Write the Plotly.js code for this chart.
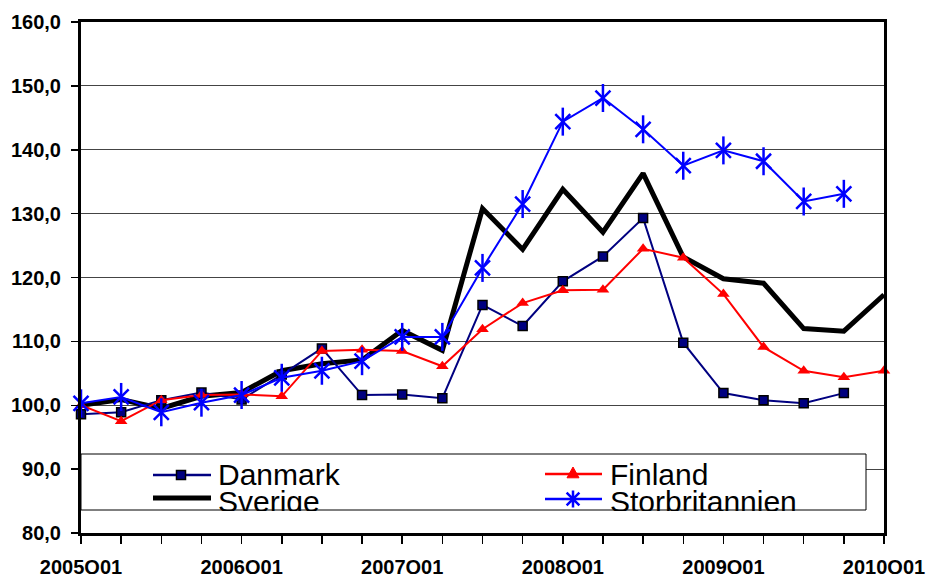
<!DOCTYPE html>
<html>
<head>
<meta charset="utf-8">
<script src="https://cdn.plot.ly/plotly-3.0.1.min.js"></script>
<style>
  html, body { margin: 0; padding: 0; background: #fff; }
  #chart { width: 928px; height: 574px; }
</style>
</head>
<body>
<div id="chart"></div>
<script>
const quarters = ['2005Q01','2005Q02','2005Q03','2005Q04',
                  '2006Q01','2006Q02','2006Q03','2006Q04',
                  '2007Q01','2007Q02','2007Q03','2007Q04',
                  '2008Q01','2008Q02','2008Q03','2008Q04',
                  '2009Q01','2009Q02','2009Q03','2009Q04',
                  '2010Q01'];
const tickLabels = ['2005Q01','','','',
                    '2006Q01','','','',
                    '2007Q01','','','',
                    '2008Q01','','','',
                    '2009Q01','','','',
                    '2010Q01'];
const yTicks = [80, 90, 100, 110, 120, 130, 140, 150, 160];

const danmark = [98.6, 98.9, 100.8, 102.0, 100.9, 104.8, 108.9, 101.6, 101.7, 101.1,
                 115.7, 112.4, 119.4, 123.3, 129.3, 109.8, 101.9, 100.8, 100.3, 101.9];
const finland = [100.0, 97.5, 100.8, 101.6, 101.7, 101.4, 108.5, 108.7, 108.5, 106.1,
                 111.9, 116.0, 118.0, 118.1, 124.5, 123.1, 117.4, 109.1, 105.4, 104.4, 105.4];
const sverige = [100.0, 100.9, 99.5, 101.4, 102.0, 105.4, 106.5, 107.1, 111.7, 108.6,
                 130.8, 124.4, 133.8, 127.1, 136.3, 123.2, 119.8, 119.1, 112.0, 111.6, 117.3];
const storbritannien = [100.3, 101.3, 98.9, 100.4, 101.6, 104.3, 105.4, 106.9, 110.7, 110.7,
                        121.5, 131.5, 144.4, 148.1, 143.2, 137.5, 139.9, 138.2, 131.9, 133.1];

const seriesNames = ['Danmark', 'Finland', 'Sverige', 'Storbritannien'];

const W = 928, H = 574;
const M = {l: 81, r: 44, t: 22, b: 41};
const PW = W - M.l - M.r, PH = H - M.t - M.b;
function px(x) { return (x - M.l) / PW; }
function py(y) { return (M.t + PH - y) / PH; }

const FONT = 'Liberation Sans, Arial, Helvetica, sans-serif';

const traces = [
  {x: quarters, y: sverige, name: seriesNames[2], type: 'scatter', mode: 'lines',
   line: {color: '#000000', width: 5}, cliponaxis: false},
  {x: quarters, y: danmark, name: seriesNames[0], type: 'scatter', mode: 'lines+markers',
   line: {color: '#000080', width: 2},
   marker: {symbol: 'square', size: 9, color: '#000080', line: {color: '#000000', width: 1.5}},
   cliponaxis: false},
  {x: quarters, y: finland, name: seriesNames[1], type: 'scatter', mode: 'lines+markers',
   line: {color: '#FF0000', width: 2},
   marker: {symbol: 'triangle-up', size: 11, color: '#FF0000'},
   cliponaxis: false},
  {x: quarters, y: storbritannien, name: seriesNames[3], type: 'scatter', mode: 'lines+markers',
   line: {color: '#0000FF', width: 2},
   marker: {symbol: 'x-thin-open', size: 15, color: '#0000FF', line: {color: '#0000FF', width: 2.5}},
   cliponaxis: false},
  {x: quarters, y: storbritannien, name: seriesNames[3], type: 'scatter', mode: 'markers',
   marker: {symbol: 'line-ns-open', size: 20, color: '#0000FF', line: {color: '#0000FF', width: 2.5}},
   cliponaxis: false, showlegend: false}
];

// Legend drawn as shapes + annotations (entries overlap and are clipped in the reference)
function rectPath(cx, cy, s) {
  return 'M' + px(cx - s) + ',' + py(cy - s) + 'L' + px(cx + s) + ',' + py(cy - s) +
         'L' + px(cx + s) + ',' + py(cy + s) + 'L' + px(cx - s) + ',' + py(cy + s) + 'Z';
}
function triPath(cx, cy, s) {
  return 'M' + px(cx) + ',' + py(cy - s) + 'L' + px(cx + s) + ',' + py(cy + s * 0.8) +
         'L' + px(cx - s) + ',' + py(cy + s * 0.8) + 'Z';
}
function astPath(cx, cy, s) {
  const d = s * 0.75;
  return 'M' + px(cx) + ',' + py(cy - s) + 'L' + px(cx) + ',' + py(cy + s) +
         'M' + px(cx - d) + ',' + py(cy - d) + 'L' + px(cx + d) + ',' + py(cy + d) +
         'M' + px(cx - d) + ',' + py(cy + d) + 'L' + px(cx + d) + ',' + py(cy - d);
}
function hline(x0, x1, y, color, width) {
  return {type: 'line', xref: 'paper', yref: 'paper', x0: px(x0), x1: px(x1), y0: py(y), y1: py(y),
          line: {color: color, width: width}, layer: 'above'};
}

const shapes = [
  {type: 'rect', xref: 'paper', yref: 'paper', x0: px(81), x1: px(866), y0: py(510), y1: py(454),
   fillcolor: '#ffffff', line: {color: '#000000', width: 1}, layer: 'above'},
  hline(153, 211, 475, '#000080', 2.5),
  {type: 'path', xref: 'paper', yref: 'paper', path: rectPath(181, 475, 4.5),
   fillcolor: '#000080', line: {color: '#000000', width: 1.5}, layer: 'above'},
  hline(153, 211, 498, '#000000', 5),
  hline(545, 602, 474, '#FF0000', 2.5),
  {type: 'path', xref: 'paper', yref: 'paper', path: triPath(573, 473, 6),
   fillcolor: '#FF0000', line: {color: '#FF0000', width: 1}, layer: 'above'},
  hline(545, 602, 499, '#0000FF', 2.5),
  {type: 'path', xref: 'paper', yref: 'paper', path: astPath(573, 499, 8.5),
   line: {color: '#0000FF', width: 2.5}, layer: 'above'}
];

const legFont = {family: FONT, size: 30, color: '#000000'};
const annotations = [
  {xref: 'paper', yref: 'paper', x: px(217), y: py(474), xanchor: 'left', yanchor: 'middle',
   text: seriesNames[0], showarrow: false, font: legFont, borderpad: 0},
  {xref: 'paper', yref: 'paper', x: px(609), y: py(474), xanchor: 'left', yanchor: 'middle',
   text: seriesNames[1], showarrow: false, font: legFont, borderpad: 0},
  {xref: 'paper', yref: 'paper', x: px(217), y: py(484), xanchor: 'left', yanchor: 'top',
   text: seriesNames[2], showarrow: false, font: legFont, borderpad: 0, height: 26, valign: 'top'},
  {xref: 'paper', yref: 'paper', x: px(609), y: py(484), xanchor: 'left', yanchor: 'top',
   text: seriesNames[3], showarrow: false, font: legFont, borderpad: 0, height: 26, valign: 'top'}
];

const layout = {
  width: W, height: H,
  margin: M,
  paper_bgcolor: '#ffffff', plot_bgcolor: '#ffffff',
  showlegend: false,
  separators: ', ',
  font: {family: FONT, color: '#000000'},
  xaxis: {
    type: 'category',
    range: [0, quarters.length - 1],
    tickmode: 'array', tickvals: quarters, ticktext: tickLabels,
    ticks: 'outside', ticklen: 8, tickwidth: 1.5, tickcolor: '#000000',
    showgrid: false, zeroline: false,
    showline: true, linecolor: '#000000', linewidth: 3, mirror: true,
    tickfont: {family: FONT, size: 20, color: '#000000', weight: 'bold'},
    ticklabelstandoff: 6,
    tickangle: 0
  },
  yaxis: {
    range: [80, 160],
    tickmode: 'array', tickvals: yTicks,
    tickformat: '.1f',
    ticks: 'outside', ticklen: 7, tickwidth: 1.5, tickcolor: '#000000',
    showgrid: true, gridcolor: '#444444', gridwidth: 1,
    zeroline: false,
    showline: true, linecolor: '#000000', linewidth: 3, mirror: true,
    tickfont: {family: FONT, size: 20, color: '#000000', weight: 'bold'},
    ticklabelstandoff: 6
  },
  shapes: shapes,
  annotations: annotations
};

Plotly.newPlot('chart', traces, layout, {displayModeBar: false, staticPlot: true});
</script>
</body>
</html>
